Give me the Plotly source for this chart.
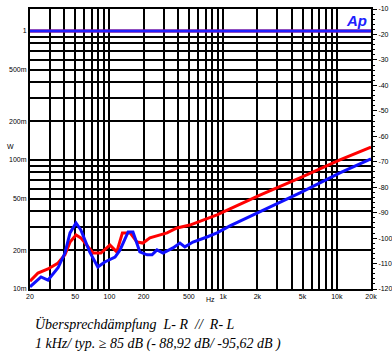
import plotly.graph_objects as go

# Data (left axis in W, log scale; frequency in Hz)
red_freq = [20, 23.5, 28.8, 35.3, 40.6, 45, 50.8, 56, 65, 72, 84, 101, 116, 130, 152, 175, 197, 227,
            321, 393, 510, 665, 883, 1148, 2108, 4743, 10650, 20000]
red_val = [0.0115, 0.0133, 0.0143, 0.0159, 0.0184, 0.0231, 0.0262, 0.0249, 0.0212, 0.0190, 0.0190,
           0.0219, 0.0194, 0.0272, 0.0272, 0.0231, 0.0227, 0.0249, 0.0272, 0.0297, 0.0313, 0.0343,
           0.0375, 0.0417, 0.0535, 0.0725, 0.100, 0.126]
blue_freq = [20, 25, 28.8, 35.3, 40.6, 45, 50.8, 56, 67, 79, 91, 112, 124, 146, 161, 185, 214, 237,
             262, 296, 362, 417, 461, 543, 721, 883, 1148, 2108, 4743, 10650, 20000]
blue_val = [0.0104, 0.0124, 0.0117, 0.0146, 0.0190, 0.0272, 0.0325, 0.0287, 0.0194, 0.0148, 0.0162,
            0.0177, 0.0201, 0.0277, 0.0277, 0.0194, 0.0184, 0.0184, 0.0201, 0.0190, 0.0208, 0.0227,
            0.0212, 0.0231, 0.0253, 0.0272, 0.0308, 0.0395, 0.0555, 0.0793, 0.102]
ref_freq = [20, 20000]
ref_val = [1.0, 1.0]

x_ticks = [20, 30, 40, 50, 60, 70, 80, 90, 100, 200, 300, 400, 500, 600, 700, 800, 900,
           1000, 2000, 3000, 4000, 5000, 6000, 7000, 8000, 9000, 10000, 20000]
x_labels = {20: "20", 50: "50", 100: "100", 200: "200", 500: "500", 1000: "1k", 2000: "2k",
            5000: "5k", 10000: "10k", 20000: "20k"}
y_ticks = [0.01, 0.02, 0.03, 0.04, 0.05, 0.06, 0.07, 0.08, 0.09, 0.1, 0.2, 0.3, 0.4, 0.5, 0.6,
           0.7, 0.8, 0.9, 1.0]
y_labels = {0.01: "10m", 0.02: "20m", 0.05: "50m", 0.1: "100m", 0.2: "200m", 0.5: "500m", 1.0: "1"}
db_ticks = [-10, -20, -30, -40, -50, -60, -70, -80, -90, -100, -110, -120]

tickfont = dict(family="Liberation Sans", size=7, color="black")

fig = go.Figure()
fig.add_trace(go.Scatter(x=ref_freq, y=ref_val, mode="lines", line=dict(color="#ff0000", width=3)))
fig.add_trace(go.Scatter(x=ref_freq, y=ref_val, mode="lines", line=dict(color="#2020ff", width=3)))
fig.add_trace(go.Scatter(x=red_freq, y=red_val, mode="lines", line=dict(color="#ff0000", width=3)))
fig.add_trace(go.Scatter(x=blue_freq, y=blue_val, mode="lines", line=dict(color="#1010ff", width=3)))
# invisible trace for right axis
fig.add_trace(go.Scatter(x=[20, 20000], y=[-120, -10], yaxis="y2", mode="lines",
                         line=dict(color="rgba(0,0,0,0)"), hoverinfo="skip"))

fig.update_layout(
    width=392, height=360,
    margin=dict(l=30, r=21, t=9, b=71),
    paper_bgcolor="white", plot_bgcolor="white",
    showlegend=False,
    xaxis=dict(type="log", range=[1.30103, 4.30103], automargin=False,
               tickvals=x_ticks, ticktext=[x_labels.get(v, "") for v in x_ticks],
               showgrid=True, gridcolor="black", gridwidth=1.6,
               showline=True, linecolor="black", linewidth=2, mirror=True,
               ticks="", tickfont=tickfont, zeroline=False),
    yaxis=dict(type="log", range=[-2, 0.17], automargin=False,
               tickvals=y_ticks, ticktext=[y_labels.get(v, "") for v in y_ticks],
               showgrid=True, gridcolor="black", gridwidth=2,
               showline=True, linecolor="black", linewidth=2, mirror=True,
               ticks="", tickfont=tickfont, zeroline=False),
    yaxis2=dict(overlaying="y", side="right", range=[-120, -10], automargin=False,
                tickvals=db_ticks, ticktext=[str(v) for v in db_ticks],
                showgrid=False, zeroline=False, showline=True, linecolor="black", linewidth=2,
                ticks="outside", ticklen=4, tickwidth=1, tickcolor="black",
                minor=dict(dtick=2, ticks="outside", ticklen=2, tickcolor="black", tickwidth=1),
                tickfont=tickfont),
)

fig.add_annotation(text="W", xref="paper", yref="paper", x=-0.073, y=0.51, showarrow=False,
                   font=dict(family="Liberation Sans", size=7, color="black"))
fig.add_annotation(text="Hz", xref="paper", yref="paper", x=0.528, y=-0.057, showarrow=False,
                   font=dict(family="Liberation Sans", size=7, color="black"))
fig.add_annotation(text="<b><i>Ap</i></b>", xref="paper", yref="paper", x=0.993, y=0.995,
                   xanchor="right", yanchor="top",
                   showarrow=False, font=dict(family="Liberation Sans Narrow, Liberation Sans", size=15, color="#2020ff"))
fig.add_annotation(text="<i>Übersprechdämpfung  L- R  //  R- L</i>", xref="paper", yref="paper",
                   x=0.009, y=-0.125, xanchor="left", yanchor="middle", showarrow=False,
                   font=dict(family="Liberation Serif", size=14, color="black"))
fig.add_annotation(text="<i>1 kHz/ typ. ≥ 85 dB (- 88,92 dB/ -95,62 dB )</i>", xref="paper", yref="paper",
                   x=0.009, y=-0.196, xanchor="left", yanchor="middle", showarrow=False,
                   font=dict(family="Liberation Serif", size=14, color="black"))

fig.write_html("out.html", config={"displayModeBar": False},
               post_script="document.body.style.margin='0';document.body.style.overflow='hidden';")
